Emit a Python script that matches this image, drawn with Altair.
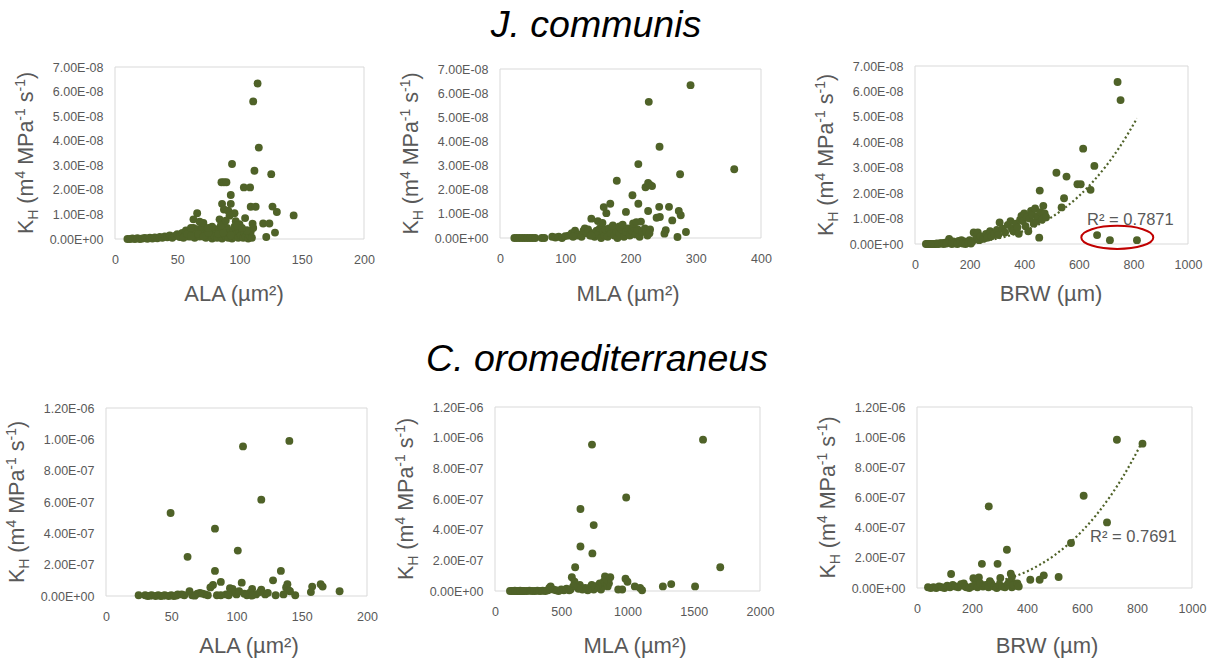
import altair as alt
import pandas as pd

W, H = 1213, 659
GREEN = "#4F6228"
FRAME = "#D9D9D9"
TXT = "#595959"
FONT = "Liberation Sans"

# ---------------- data (K_H in units of 1e-8 for J. communis, 1e-7 for C. oromediterraneus)
ala_j = [10, 12, 14, 16, 18, 20, 22, 24, 26, 28,
         30, 32, 34, 36, 38, 40, 42, 44, 46, 48,
         50, 52, 54, 56, 57, 59, 60, 62, 63, 64,
         65, 66, 68, 69, 70, 72, 73, 74, 76, 77,
         78, 79, 80, 81, 82, 84, 85, 86, 88, 89,
         90, 91, 92, 94, 95, 96, 97, 98, 99, 100,
         101, 102, 103, 104, 105, 106, 107, 108, 110, 55,
         58, 61, 67, 71, 75, 83, 87, 93, 96, 109,
         114.5, 111, 115.5, 94, 112, 125.5, 85.5, 87.5, 89.5, 103.5,
         108.5, 93, 86, 93, 109, 113, 126.5, 87.5, 91, 130,
         143.5, 66, 96, 92, 84, 63, 104.5, 68, 71, 97,
         87, 110.5, 119, 124, 111, 128.5, 121.5, 85, 100, 78,
         75, 106, 61, 89, 98, 102]
kh_ala_j = [0.0, 0.0, 0.02, 0.0, 0.03, 0.0, 0.02, 0.04, 0.01, 0.05,
            0.02, 0.06, 0.03, 0.08, 0.05, 0.1, 0.07, 0.15, 0.05, 0.12,
            0.2, 0.08, 0.25, 0.15, 0.35, 0.1, 0.3, 0.2, 0.45, 0.05,
            0.25, 0.4, 0.1, 0.3, 0.5, 0.2, 0.05, 0.35, 0.15, 0.45,
            0.02, 0.25, 0.1, 0.4, 0.05, 0.3, 0.15, 0.02, 0.35, 0.1,
            0.45, 0.05, 0.25, 0.02, 0.35, 0.1, 0.45, 0.2, 0.05, 0.3,
            0.15, 0.4, 0.05, 0.25, 0.1, 0.35, 0.02, 0.15, 0.05, 0.05,
            0.2, 0.1, 0.2, 0.1, 0.25, 0.2, 0.25, 0.15, 0.5, 0.3,
            6.33, 5.6, 3.72, 3.05, 2.78, 2.64, 2.31, 2.31, 2.31, 2.1,
            2.1, 1.79, 1.43, 1.43, 1.31, 1.31, 1.32, 1.2, 1.15, 1.1,
            0.96, 1.05, 1.05, 0.95, 0.8, 0.8, 0.85, 0.7, 0.65, 0.72,
            0.62, 0.62, 0.63, 0.63, 0.45, 0.26, 0.08, 0.55, 0.6, 0.5,
            0.45, 0.35, 0.45, 0.75, 0.55, 0.45]

mla_j = [22, 26, 30, 34, 38, 42, 46, 50, 54, 64,
         68, 80, 85, 90, 95, 100, 105, 110, 115, 118,
         120, 125, 128, 130, 133, 135, 138, 142, 145, 148,
         150, 153, 155, 158, 160, 162, 165, 167, 170, 172,
         175, 178, 180, 183, 186, 190, 193, 196, 199, 202,
         205, 208, 211, 214, 218, 222, 226, 230, 112, 140,
         292, 228, 244.5, 359, 212, 276, 179, 223, 227, 230,
         233, 203, 212, 169, 159, 163, 193, 227, 244, 259,
         274, 277, 264, 240, 245, 140, 150, 157, 173, 183,
         188, 216, 204, 209, 285, 272, 254, 252, 224, 229]
kh_mla_j = [0.0, 0.0, 0.0, 0.0, 0.0, 0.0, 0.0, 0.0, 0.0, 0.0,
            0.0, 0.05, 0.02, 0.05, 0.0, 0.08, 0.1, 0.2, 0.3, 0.1,
            0.15, 0.05, 0.3, 0.4, 0.2, 0.35, 0.1, 0.2, 0.05, 0.3,
            0.15, 0.4, 0.0, 0.25, 0.1, 0.35, 0.05, 0.4, 0.2, 0.45,
            0.1, 0.3, 0.0, 0.2, 0.35, 0.05, 0.25, 0.4, 0.1, 0.3,
            0.45, 0.15, 0.35, 0.05, 0.25, 0.4, 0.1, 0.35, 0.05, 0.1,
            6.33, 5.64, 3.78, 2.85, 3.06, 2.64, 2.37, 2.1, 2.28, 2.2,
            2.15, 1.77, 1.42, 1.42, 1.28, 1.03, 1.08, 1.12, 1.29, 1.29,
            1.12, 0.94, 0.73, 0.84, 0.87, 0.8, 0.7, 0.62, 0.52, 0.48,
            0.55, 0.68, 0.6, 0.66, 0.25, 0.04, 0.32, 0.18, 0.3, 0.2]

brw_j = [40, 45, 50, 55, 60, 65, 70, 75, 80, 85,
         90, 95, 100, 110, 120, 125, 130, 140, 150, 160,
         170, 180, 190, 200, 210, 215, 225, 230, 235, 240,
         250, 260, 265, 275, 280, 290, 300, 305, 310, 320,
         330, 340, 350, 355, 360, 370, 375, 380, 385, 390,
         395, 400, 405, 410, 415, 420, 425, 430, 435, 440,
         445, 450, 455, 460, 465, 470, 475, 480, 457, 518,
         555, 595, 607, 616, 657, 643, 546, 537, 742, 753,
         667, 714, 813, 105, 115, 135, 145, 155, 165, 175,
         185, 195, 205]
kh_brw_j = [0.0, 0.0, 0.0, 0.0, 0.0, 0.0, 0.0, 0.0, 0.02, 0.0,
            0.02, 0.03, 0.03, 0.05, 0.08, 0.2, 0.05, 0.1, 0.05, 0.12,
            0.15, 0.1, 0.08, 0.15, 0.1, 0.45, 0.3, 0.45, 0.15, 0.3,
            0.2, 0.4, 0.25, 0.5, 0.3, 0.4, 0.55, 0.35, 0.85, 0.6,
            0.45, 0.75, 0.9, 0.6, 0.5, 0.8, 0.65, 0.4, 0.95, 1.1,
            0.9, 1.2, 0.7, 1.05, 0.5, 1.0, 1.3, 1.15, 0.8, 1.4,
            0.9, 1.1, 0.25, 1.25, 0.95, 1.5, 1.2, 1.05, 2.1, 2.8,
            2.65, 2.35, 2.35, 3.75, 3.07, 2.13, 1.8, 1.44, 6.37, 5.66,
            0.35, 0.15, 0.15, 0.0, 0.02, 0.0, 0.03, 0.0, 0.05, 0.02,
            0.0, 0.05, 0.02]

trend_brw_j = [40, 100, 150, 200, 250, 300, 350, 400, 450, 500, 550, 600, 650, 700, 750, 813]
trend_kh_j = [0.0003, 0.006, 0.023, 0.057, 0.116, 0.21, 0.34, 0.52, 0.75, 1.05,
              1.43, 1.88, 2.43, 3.07, 3.82, 4.94]

ala_c = [140.5, 105, 119, 49.5, 83.5, 62.5, 101, 83.5, 134, 128,
         88, 104, 82, 80, 95, 97, 112, 119, 139, 138,
         140, 158, 157, 164.5, 166, 179, 145, 130, 122, 115,
         110, 100, 92, 85, 76, 72, 70, 64, 60, 55,
         50, 45, 40, 35, 30, 25, 32, 38, 42, 48,
         52, 58, 66, 74, 78, 88, 96, 102, 106, 118,
         124, 136, 141, 34, 44, 54, 68, 94, 108, 112]
kh_ala_c = [9.9, 9.55, 6.15, 5.3, 4.3, 2.5, 2.9, 1.6, 1.6, 1.0,
            0.9, 0.85, 0.7, 0.55, 0.5, 0.45, 0.45, 0.4, 0.75, 0.55,
            0.35, 0.6, 0.25, 0.75, 0.6, 0.3, 0.05, 0.05, 0.1, 0.1,
            0.2, 0.1, 0.1, 0.05, 0.1, 0.2, 0.15, 0.3, 0.05, 0.1,
            0.05, 0.05, 0.05, 0.05, 0.05, 0.05, 0.0, 0.0, 0.0, 0.0,
            0.0, 0.1, 0.05, 0.15, 0.05, 0.05, 0.25, 0.3, 0.15, 0.25,
            0.2, 0.1, 0.3, 0.02, 0.02, 0.03, 0.02, 0.05, 0.05, 0.02]

mla_c = [1570, 732, 990, 645, 745, 645, 735, 605, 1700, 1267,
         1330, 1510, 1055, 1095, 1110, 985, 1000, 960, 930, 870,
         860, 850, 830, 820, 810, 800, 790, 775, 760, 745,
         730, 720, 700, 680, 660, 640, 630, 580, 600, 590,
         570, 560, 540, 520, 500, 480, 460, 440, 420, 410,
         400, 380, 360, 340, 320, 300, 280, 260, 240, 220,
         200, 180, 160, 140, 125, 113, 150, 170, 190, 210]
kh_mla_c = [9.87, 9.55, 6.1, 5.35, 4.3, 2.9, 2.45, 1.55, 1.55, 0.3,
            0.45, 0.3, 0.3, 0.2, 0.05, 0.8, 0.6, 0.1, 0.1, 0.9,
            0.5, 0.3, 0.95, 0.6, 0.3, 0.1, 0.5, 0.35, 0.2, 0.1,
            0.4, 0.25, 0.05, 0.2, 0.1, 0.4, 0.15, 0.9, 0.6, 0.3,
            0.1, 0.05, 0.15, 0.05, 0.1, 0.0, 0.05, 0.1, 0.3, 0.2,
            0.05, 0.0, 0.02, 0.0, 0.02, 0.0, 0.0, 0.02, 0.0, 0.0,
            0.0, 0.0, 0.0, 0.0, 0.0, 0.0, 0.02, 0.0, 0.02, 0.0]

brw_c = [727, 820, 606, 691, 560, 261, 327, 236, 293, 124,
         341, 345, 303, 205, 215, 225, 265, 412, 446, 461,
         515, 340, 355, 360, 345, 40, 50, 60, 70, 80,
         90, 100, 110, 120, 130, 140, 150, 160, 170, 175,
         180, 190, 200, 210, 220, 230, 240, 250, 260, 270,
         280, 290, 300, 310, 320, 330, 335, 350, 365, 370]
kh_brw_c = [9.83, 9.57, 6.12, 4.35, 2.98, 5.4, 2.54, 1.6, 1.6, 0.93,
            0.95, 0.75, 0.66, 0.65, 0.6, 0.7, 0.45, 0.55, 0.55, 0.84,
            0.73, 0.3, 0.3, 0.15, 0.05, 0.05, 0.0, 0.05, 0.0, 0.1,
            0.05, 0.0, 0.15, 0.05, 0.2, 0.1, 0.05, 0.25, 0.3, 0.1,
            0.05, 0.0, 0.1, 0.2, 0.05, 0.3, 0.1, 0.2, 0.05, 0.3,
            0.1, 0.0, 0.2, 0.1, 0.05, 0.25, 0.4, 0.2, 0.3, 0.1]

trend_brw_c = [40, 100, 150, 200, 250, 300, 350, 400, 450, 500, 550, 600, 650, 700, 750, 820]
trend_kh_c = [0.001, 0.017, 0.057, 0.135, 0.265, 0.46, 0.74, 1.10, 1.58, 2.17,
              2.90, 3.77, 4.80, 6.01, 7.41, 9.72]

x_titles = ["ALA (\u00b5m\u00b2)", "MLA (\u00b5m\u00b2)", "BRW (\u00b5m)"]
species = ["J. communis", "C. oromediterraneus"]
r2_labels = ["R\u00b2 = 0.7871", "R\u00b2 = 0.7691"]

ONE = pd.DataFrame({"k": [0]})


def label_expr(divisor):
    return ("replace(replace(format(datum.value/%d, '.2e'), 'e-', 'E-0'), 'e+', 'E+0')" % divisor)


def text(txt, x, y, size, color=TXT, align="left", angle=0, dx=0, dy=0, italic=False, baseline="alphabetic"):
    kw = dict(text=txt, font=FONT, fontSize=size, color=color, align=align, baseline=baseline)
    if angle:
        kw["angle"] = angle
    if dx:
        kw["dx"] = dx
    if dy:
        kw["dy"] = dy
    if italic:
        kw["fontStyle"] = "italic"
    return alt.Chart(ONE).mark_text(**kw).encode(x=alt.value(x), y=alt.value(y))


# widths (em) of Liberation Sans glyphs used in the y title
EM = {"K": .667, "H": .722, " ": .278, "(": .333, ")": .333, "m": .833, "4": .556,
      "M": .833, "P": .667, "a": .556, "-": .333, "1": .556, "s": .5}


def y_title(xb, yc):
    big, small = 21.5, 14
    segs = [("K", big, 0), ("H", small, 4.5), (" ", big, None), ("(m", big, 0), ("4", small, -8),
            (" ", big, None), ("MPa", big, 0), ("-1", small, -8), (" ", big, None), ("s", big, 0),
            ("-1", small, -8), (")", big, 0)]
    total = sum(sum(EM[c] for c in s) * f for s, f, _ in segs)
    y0 = yc + total / 2
    layers, pos = [], 0.0
    for s, f, off in segs:
        if off is not None:
            layers.append(text(s, xb, y0, f, angle=270, dx=pos, dy=off))
        pos += sum(EM[c] for c in s) * f
    return layers


def panel(xs, ys, box, xdom, ydom, xticks, yticks, divisor, trend=None, ellipse=None):
    left, right, top, bottom = box
    xsc = alt.Scale(domain=xdom, range=[left, right], nice=False, zero=False)
    ysc = alt.Scale(domain=ydom, range=[bottom, top], nice=False, zero=False)
    xax = alt.Axis(orient="bottom", offset=bottom - H, values=xticks, title=None, grid=False,
                   ticks=False, tickSize=0, domain=False, labelFont=FONT, labelFontSize=12.5,
                   labelColor=TXT, labelPadding=14, labelOverlap=False, labelFlush=False, format="d")
    yax = alt.Axis(orient="left", offset=-left, values=yticks, title=None, grid=False,
                   ticks=False, tickSize=0, domain=False, labelFont=FONT, labelFontSize=12.5,
                   labelColor=TXT, labelPadding=12, labelOverlap=False, labelFlush=False,
                   labelExpr=label_expr(divisor))
    enc = dict(x=alt.X("x:Q", scale=xsc, axis=xax), y=alt.Y("y:Q", scale=ysc, axis=yax))
    frame = alt.Chart(ONE).mark_rect(filled=False, stroke=FRAME, strokeWidth=1).encode(
        x=alt.XDatum(xdom[0], type="quantitative", scale=xsc, axis=xax),
        x2=alt.X2Datum(xdom[1]),
        y=alt.YDatum(ydom[0], type="quantitative", scale=ysc, axis=yax),
        y2=alt.Y2Datum(ydom[1]))
    layers = [frame]
    if trend is not None:
        tdf = pd.DataFrame({"x": trend[0], "y": trend[1]})
        layers.append(alt.Chart(tdf).mark_line(color=GREEN, strokeDash=[2, 2.6], strokeWidth=2.2,
                                               interpolate="monotone").encode(**enc))
    pdf = pd.DataFrame({"x": xs, "y": ys})
    layers.append(alt.Chart(pdf).mark_circle(size=62, color=GREEN, opacity=1).encode(**enc))
    if ellipse is not None:
        path = ("M-1,0 C-1,-0.1767 -0.5523,-0.32 0,-0.32 C0.5523,-0.32 1,-0.1767 1,0 "
                "C1,0.1767 0.5523,0.32 0,0.32 C-0.5523,0.32 -1,0.1767 -1,0 Z")
        layers.append(alt.Chart(ONE).mark_point(shape=path, size=5184, filled=False, stroke="#C00000",
                                                strokeWidth=2, opacity=1).encode(
            x=alt.XDatum(ellipse[0], type="quantitative", scale=xsc, axis=xax),
            y=alt.YDatum(ellipse[1], type="quantitative", scale=ysc, axis=yax)))
    return alt.layer(*layers)


top_y = list(range(0, 8))
bot_y = list(range(0, 13, 2))

boxes = [(115, 364, 67, 239), (500, 761, 69, 238), (915, 1188, 66, 244),
         (106, 367, 408, 596), (495, 760, 407, 591), (917, 1192, 407, 588)]

panels = [
    panel(ala_j, kh_ala_j, boxes[0], [0, 200], [0, 7], [0, 50, 100, 150, 200], top_y, 100000000),
    panel(mla_j, kh_mla_j, boxes[1], [0, 400], [0, 7], [0, 100, 200, 300, 400], top_y, 100000000),
    panel(brw_j, kh_brw_j, boxes[2], [0, 1000], [0, 7], [0, 200, 400, 600, 800, 1000], top_y, 100000000,
          trend=(trend_brw_j, trend_kh_j), ellipse=(741, 0.26)),
    panel(ala_c, kh_ala_c, boxes[3], [0, 200], [0, 12], [0, 50, 100, 150, 200], bot_y, 10000000),
    panel(mla_c, kh_mla_c, boxes[4], [0, 2000], [0, 12], [0, 500, 1000, 1500, 2000], bot_y, 10000000),
    panel(brw_c, kh_brw_c, boxes[5], [0, 1000], [0, 12], [0, 200, 400, 600, 800, 1000], bot_y, 10000000,
          trend=(trend_brw_c, trend_kh_c)),
]

annots = []
annots.append(text(species[0], 596, 37, 37.5, color="#000000", align="center", italic=True))
annots.append(text(species[1], 597, 371, 37.5, color="#000000", align="center", italic=True))
xt_centers = [234, 628, 1051, 249, 635, 1047]
for i, b in enumerate(boxes):
    base = 301 if i < 3 else 653
    annots.append(text(x_titles[i % 3], xt_centers[i], base, 22, align="center"))
    annots += y_title(b[0] - 82, (b[2] + b[3]) / 2)
annots.append(text(r2_labels[0], 1087, 225, 16.5))
annots.append(text(r2_labels[1], 1090, 542, 16.5))

chart = alt.layer(*panels, *annots).resolve_scale(x="independent", y="independent").properties(
    width=W, height=H, autosize=alt.AutoSizeParams(type="none"), padding=0, background="white"
).configure_view(strokeWidth=0)

chart.save("out.html", embed_options={"renderer": "svg", "actions": False})
